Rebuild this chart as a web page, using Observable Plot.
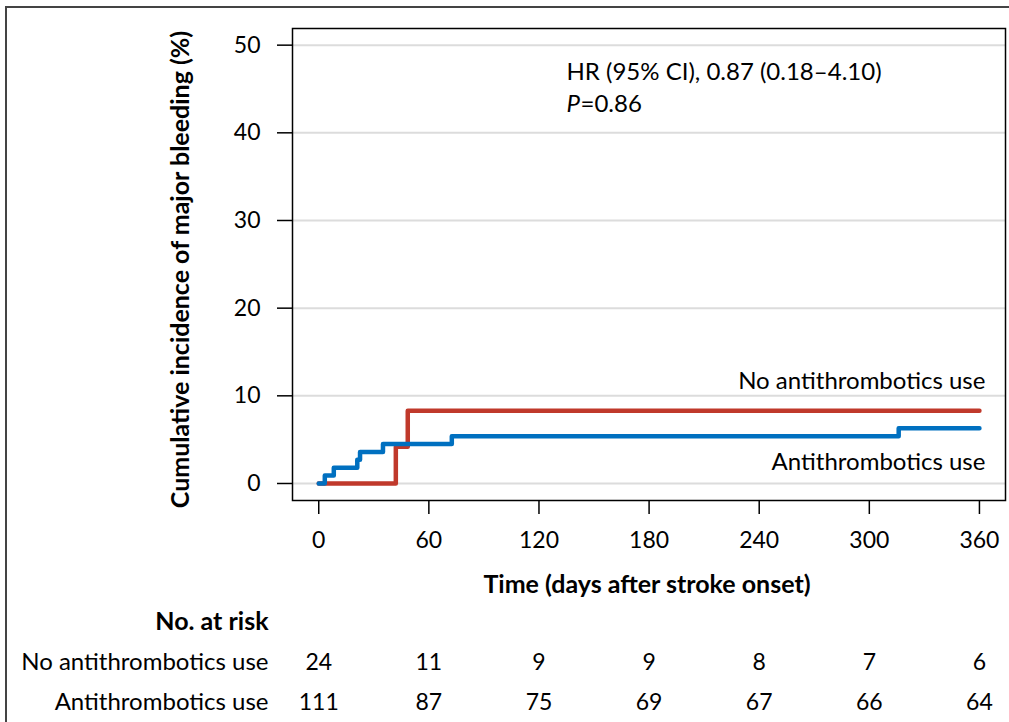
<!DOCTYPE html>
<html>
<head>
<meta charset="utf-8">
<script src="https://cdn.jsdelivr.net/npm/d3@7"></script>
<script src="https://cdn.jsdelivr.net/npm/@observablehq/plot@0.6"></script>
<style>
  html, body { margin: 0; padding: 0; background: #fff; }
  #wrap { position: relative; width: 1009px; height: 722px; overflow: hidden; }
  #border { position: absolute; left: 5px; top: 6px; width: 1100px; height: 800px; border-left: 2px solid #444; border-top: 2px solid #444; }
  #chart { position: absolute; left: 0; top: 0; }
</style>
</head>
<body>
<div id="wrap"><div id="border"></div><div id="chart"></div></div>
<script>
// Step-curve data (days after stroke onset, cumulative incidence %)
const antiDays   = [0, 3.3, 8.2, 21, 22.5, 35, 72.5, 316, 360];
const antiValues = [0, 0.9, 1.8, 2.7, 3.6, 4.5, 5.4, 6.3, 6.3];
const noAntiDays   = [0, 42, 48.5, 360];
const noAntiValues = [0, 4.2, 8.3, 8.3];

const xTicks = [0, 60, 120, 180, 240, 300, 360];
const yTicks = [0, 10, 20, 30, 40, 50];

const groupNames = ["No antithrombotics use", "Antithrombotics use"];
const riskTimes = [0, 60, 120, 180, 240, 300, 360];
const noAntiRisk = [24, 11, 9, 9, 8, 7, 6];
const antiRisk = [111, 87, 75, 69, 67, 66, 64];

const hrText = "HR (95% CI), 0.87 (0.18\u20134.10)";
const pLetter = "P";
const pValue = "=0.86";
const yTitle = "Cumulative incidence of major bleeding (%)";
const xTitle = "Time (days after stroke onset)";
const riskTitle = "No. at risk";

const red = "#c0392b";
const blue = "#0070c0";

const antiData = antiDays.map((d, i) => ({day: d, value: antiValues[i]}));
const noAntiData = noAntiDays.map((d, i) => ({day: d, value: noAntiValues[i]}));

const chart = Plot.plot({
  width: 1009,
  height: 722,
  marginLeft: 292,
  marginRight: 4,
  marginTop: 28,
  marginBottom: 222,
  style: {fontFamily: "Lato, 'Open Sans', sans-serif", fontSize: "22px", color: "#000", background: "transparent", overflow: "visible"},
  x: {domain: [-14.3, 374.2]},
  y: {domain: [-1.94, 51.9]},
  marks: [
    Plot.gridY(yTicks, {stroke: "#dcdcdc", strokeOpacity: 1, strokeWidth: 2}),
    Plot.axisY(yTicks, {tickSize: 15, tickPadding: 17, label: null, fontSize: 23, strokeWidth: 1.5}),
    Plot.axisX(xTicks, {tickSize: 14, tickPadding: 17, label: null, fontSize: 23, strokeWidth: 1.5}),
    Plot.line(noAntiData, {x: "day", y: "value", curve: "step-after", stroke: red, strokeWidth: 4.5, strokeLinejoin: "round", strokeLinecap: "round"}),
    Plot.line(antiData, {x: "day", y: "value", curve: "step-after", stroke: blue, strokeWidth: 4.5, strokeLinejoin: "round", strokeLinecap: "round"}),
    Plot.frame({stroke: "#000", strokeWidth: 1.5}),
    // annotations
    Plot.text([hrText], {x: 135, y: 46.9, text: d => d, textAnchor: "start", fontSize: 24}),
    Plot.text([pLetter], {x: 135, y: 43.3, text: d => d, textAnchor: "start", fontStyle: "italic", fontSize: 24}),
    Plot.text([pValue], {x: 135, y: 43.3, text: d => d, textAnchor: "start", dx: 14, fontSize: 24}),
    // curve labels
    Plot.text([groupNames[0]], {x: 360, y: 11.7, text: d => d, textAnchor: "end", dx: 6, fontSize: 24}),
    Plot.text([groupNames[1]], {x: 360, y: 2.4, text: d => d, textAnchor: "end", dx: 6, fontSize: 24}),
    // axis titles
    Plot.text([yTitle], {frameAnchor: "left", text: d => d, textAnchor: "middle", rotate: -90, dx: -112, dy: 5, fontWeight: "bold", fontSize: 25}),
    Plot.text([xTitle], {frameAnchor: "bottom", text: d => d, textAnchor: "middle", dx: -2, dy: 92, fontWeight: "bold", fontSize: 25}),
    // risk table
    Plot.text([riskTitle], {frameAnchor: "bottom-left", text: d => d, textAnchor: "end", dx: -24, dy: 129, fontWeight: "bold", fontSize: 25}),
    Plot.text([groupNames[0]], {frameAnchor: "bottom-left", text: d => d, textAnchor: "end", dx: -24, dy: 169, fontSize: 24}),
    Plot.text([groupNames[1]], {frameAnchor: "bottom-left", text: d => d, textAnchor: "end", dx: -24, dy: 209, fontSize: 24}),
    Plot.text(riskTimes, {x: d => d, text: (d, i) => noAntiRisk[i], textAnchor: "middle", frameAnchor: "bottom", dy: 169, fontSize: 23}),
    Plot.text(riskTimes, {x: d => d, text: (d, i) => antiRisk[i], textAnchor: "middle", frameAnchor: "bottom", dy: 209, fontSize: 23})
  ]
});
document.getElementById("chart").appendChild(chart);
</script>
</body>
</html>
